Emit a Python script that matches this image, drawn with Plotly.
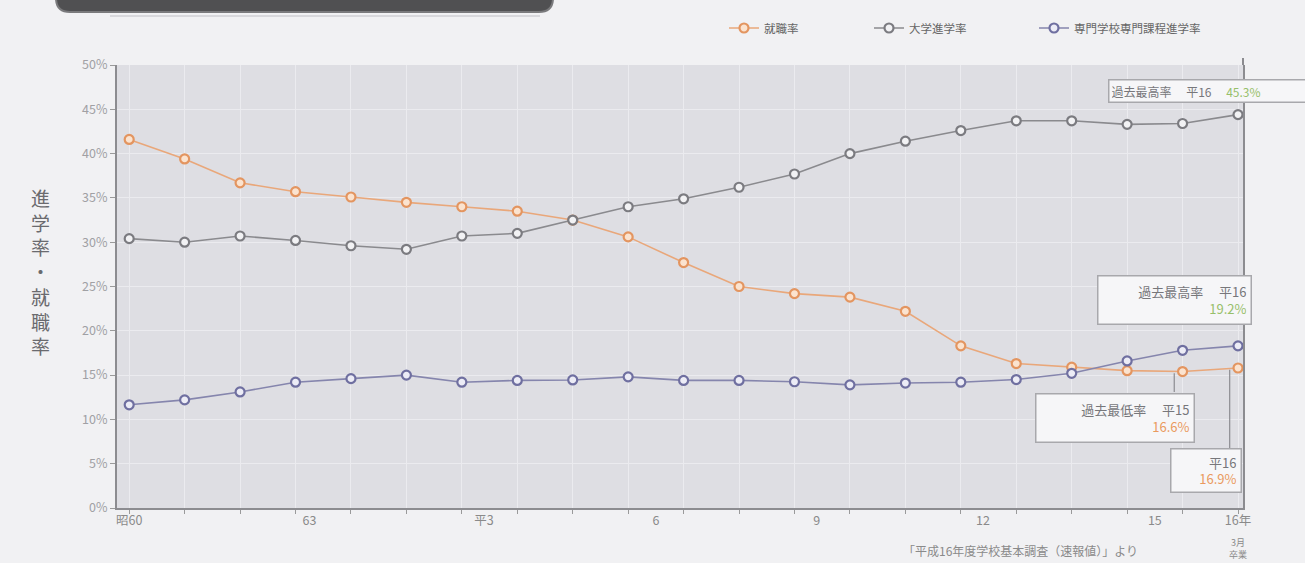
import plotly.graph_objects as go

# ---- data ----
year_index = list(range(21))
tick_labels = ["昭60", "63", "平3", "6", "9", "12", "15", "16年"]
tick_pos = [0, 3.25, 6.4, 9.5, 12.4, 15.4, 18.5, 20]
y_ticks = list(range(0, 51, 5))
y_tick_labels = [f"{v}%" for v in y_ticks]

shushoku = [41.6, 39.4, 36.7, 35.7, 35.1, 34.5, 34.0, 33.5, 32.5, 30.6, 27.7,
            25.0, 24.2, 23.8, 22.2, 18.3, 16.3, 15.9, 15.5, 15.4, 15.8]
daigaku = [30.4, 30.0, 30.7, 30.2, 29.6, 29.2, 30.7, 31.0, 32.5, 34.0, 34.9,
           36.2, 37.7, 40.0, 41.4, 42.6, 43.7, 43.7, 43.3, 43.4, 44.4]
senmon = [11.65, 12.2, 13.1, 14.2, 14.6, 15.0, 14.2, 14.4, 14.45, 14.8, 14.4,
          14.4, 14.25, 13.9, 14.1, 14.2, 14.5, 15.2, 16.6, 17.8, 18.3]

series_names = ["就職率", "大学進学率", "専門学校専門課程進学率"]

FONT = "Noto Sans CJK JP"
W, H = 1305, 563
L, R, T, B = 117, 62, 65, 55
PW, PH = W - L - R, H - T - B


def px(x):
    return (x - L) / PW


def py(y):
    return (H - B - y) / PH


fig = go.Figure()
styles = [
    ("#e9a77a", "#fbe3cf", "#e39560"),
    ("#8a8a8e", "#f2f2f4", "#7b7b80"),
    ("#8585ad", "#ececf6", "#6f6fa0"),
]
legend_ids = ["legend", "legend2", "legend3"]
legend_x = [724, 869, 1034]
for name, vals, (lc, fc, mc), lid in zip(series_names, [shushoku, daigaku, senmon], styles, legend_ids):
    fig.add_trace(go.Scatter(
        x=year_index, y=vals, name=name, mode="lines+markers", legend=lid,
        line=dict(color=lc, width=1.6),
        marker=dict(symbol="circle", size=9, color=fc, line=dict(color=mc, width=2.2)),
    ))

leg_common = dict(orientation="h", xanchor="left", y=py(28), yanchor="middle",
                  font=dict(size=11.5, color="#666666"), bgcolor="rgba(0,0,0,0)")

fig.update_layout(
    width=W, height=H,
    margin=dict(l=L, r=R, t=T, b=B, autoexpand=False),
    paper_bgcolor="#f1f1f3",
    plot_bgcolor="#dedee3",
    font=dict(family=FONT, color="#888888", size=11),
    showlegend=True,
    legend=dict(x=px(legend_x[0]), **leg_common),
    legend2=dict(x=px(legend_x[1]), **leg_common),
    legend3=dict(x=px(legend_x[2]), **leg_common),
    xaxis=dict(
        range=[-0.22, 20.09], tickvals=tick_pos, ticktext=tick_labels,
        ticks="", showgrid=False, zeroline=False,
        showline=True, linecolor="#8c8c90", linewidth=2,
        tickfont=dict(size=12.5, color="#8a8a8a"),
        minor=dict(tickvals=year_index, ticks="outside", ticklen=4, tickcolor="#9a9a9a",
                   showgrid=True, gridcolor="#ebebef", gridwidth=1),
    ),
    yaxis=dict(
        range=[0, 50], tickvals=y_ticks, ticktext=y_tick_labels,
        ticks="outside", ticklen=5, tickcolor="#9a9a9a",
        showgrid=True, gridcolor="#ebebef", gridwidth=1, zeroline=False,
        showline=True, linecolor="#8c8c90", linewidth=2, mirror=True,
        tickfont=dict(size=12.5, color="#a0a0a4"),
    ),
)

# header bar (cut at top)
x0, x1, yb, r = px(56), px(553), py(12), 14
rx, ry = r / PW, r / PH
fig.add_shape(type="path", xref="paper", yref="paper",
              path=(f"M {x0},{py(-30)} L {x0},{yb + ry} Q {x0},{yb} {x0 + rx},{yb} "
                    f"L {x1 - rx},{yb} Q {x1},{yb} {x1},{yb + ry} L {x1},{py(-30)} Z"),
              fillcolor="#505052", line=dict(color="#7a7a7c", width=2), layer="above")
fig.add_shape(type="line", xref="paper", yref="paper", x0=px(110), x1=px(540),
              y0=py(16), y1=py(16), line=dict(color="#d8d8dc", width=2))

# right border extends slightly above plot
fig.add_shape(type="line", xref="paper", yref="paper", x0=px(1243), x1=px(1243),
              y0=1, y1=py(58), line=dict(color="#8c8c90", width=2))

# leader lines
fig.add_shape(type="line", xref="x", yref="y", x0=19.85, x1=19.85, y0=15.6, y1=6.7,
              line=dict(color="#8c8c90", width=1.2))
fig.add_shape(type="line", xref="x", yref="y", x0=18.85, x1=18.85, y0=15.2, y1=13.1,
              line=dict(color="#8c8c90", width=1.2))

# y-axis title
fig.add_annotation(xref="paper", yref="paper", x=px(40), y=py(271), showarrow=False,
                   xanchor="center", yanchor="middle",
                   text="進<br>学<br>率<br>・<br>就<br>職<br>率",
                   font=dict(size=19, color="#6a6a6e", family=FONT))

GREEN = "#97bf6a"
ORANGE = "#ea9a5e"
box = dict(showarrow=False, xref="paper", yref="paper", xanchor="center", yanchor="middle",
           bgcolor="#f6f6f8", bordercolor="#a8a8ac", borderwidth=1.5)

fig.add_annotation(x=px(1210), y=py(91),
                   text=f"過去最高率　 平16 　<span style='color:{GREEN}'>45.3%</span>",
                   width=197, height=17, align="left", borderpad=2,
                   font=dict(size=12, color="#77777b", family=FONT), **box)
fig.add_annotation(x=px(1174.5), y=py(300),
                   text=f"過去最高率　 平16<br><span style='color:{GREEN}'>19.2%</span>",
                   width=144, height=39, align="right", borderpad=4,
                   font=dict(size=13, color="#77777b", family=FONT), **box)
fig.add_annotation(x=px(1115), y=py(418),
                   text=f"過去最低率　 平15<br><span style='color:{ORANGE}'>16.6%</span>",
                   width=149, height=39, align="right", borderpad=4,
                   font=dict(size=13, color="#77777b", family=FONT), **box)
fig.add_annotation(x=px(1206), y=py(470.5),
                   text=f"平16<br><span style='color:{ORANGE}'>16.9%</span>",
                   width=61, height=34, align="right", borderpad=4,
                   font=dict(size=13, color="#77777b", family=FONT), **box)

# "3月卒業" under last tick
fig.add_annotation(xref="x", yref="paper", x=20, y=py(548), showarrow=False,
                   xanchor="center", yanchor="middle",
                   text="3月<br>卒業", font=dict(size=9, color="#8a8a8a"))

# source
fig.add_annotation(xref="paper", yref="paper", x=px(1140), y=py(550), xanchor="right", yanchor="middle",
                   showarrow=False,
                   text="「平成16年度学校基本調査（速報値）」より", font=dict(size=12, color="#8a8a8a"))

fig.write_html("out.html")
